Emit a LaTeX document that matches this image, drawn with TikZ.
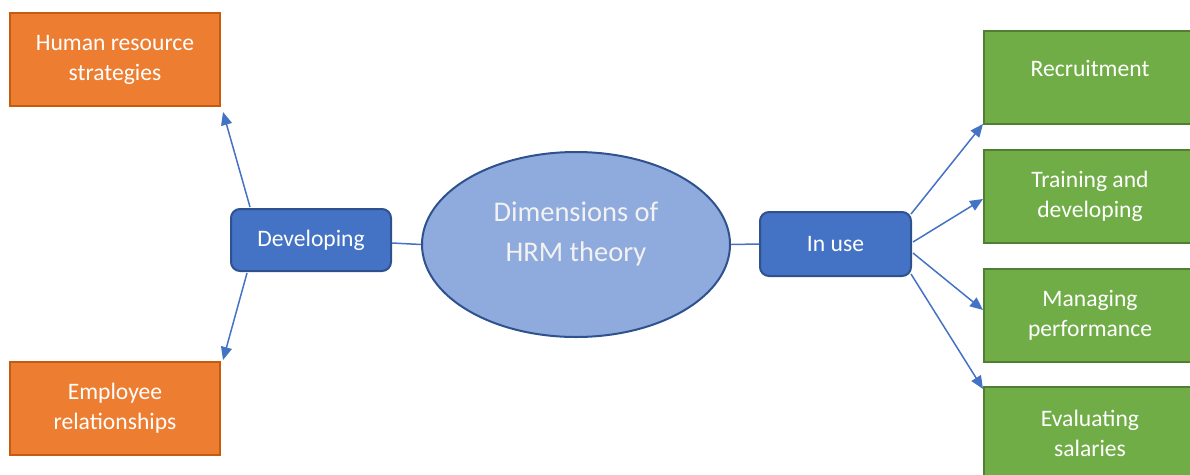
\documentclass[tikz,border=0pt]{standalone}
\usepackage{fontspec}
\setmainfont{Carlito}
\usetikzlibrary{shapes.geometric,arrows.meta}
\definecolor{orfill}{HTML}{ED7D31}
\definecolor{ordraw}{HTML}{C55A11}
\definecolor{grfill}{HTML}{70AD47}
\definecolor{grdraw}{HTML}{507E32}
\definecolor{blfill}{HTML}{4472C4}
\definecolor{bldraw}{HTML}{2F528F}
\definecolor{elfill}{HTML}{8FAADC}
\definecolor{eltext}{HTML}{F2F2F2}
\tikzset{
  basebox/.style={rectangle, inner sep=0pt, align=center, text=white,
    font=\fontsize{23.6}{30}\selectfont, line width=2pt},
  orbox/.style={basebox, fill=orfill, draw=ordraw, minimum width=210pt, minimum height=93pt},
  grbox/.style={basebox, fill=grfill, draw=grdraw, minimum width=212pt, minimum height=93pt},
  blbox/.style={basebox, fill=blfill, draw=bldraw, rounded corners=9pt},
  ell/.style={ellipse, inner sep=0pt, align=center, text=eltext, fill=elfill, draw=bldraw,
    line width=2pt, minimum width=308pt, minimum height=185pt,
    font=\fontsize{28.5}{40}\selectfont},
  conn/.style={draw=blfill, line width=1.5pt},
  arr/.style={conn, -{Triangle[length=13pt,width=11pt]}}
}
\begin{document}
\begin{tikzpicture}[x=1pt,y=-1pt]
\useasboundingbox (0,0) rectangle (1190,474);
\node[orbox] (hr) at (115,59.5) {Human resource\\strategies};
\node[orbox] (emp) at (115,408.5) {Employee\\relationships};
\node[blbox, minimum width=160pt, minimum height=62pt] (dev) at (311,240) {Developing};
\node[ell] (el) at (576,244.5) {\raisebox{11pt}[\height][\depth]{\begin{tabular}{@{}c@{}}Dimensions of\\HRM theory\end{tabular}}};
\node[blbox, minimum width=151pt, minimum height=64pt] (use) at (835.5,244) {In use};
\node[grbox] (rec) at (1090,77.5) {\raisebox{9pt}[\height][\depth]{Recruitment}};
\node[grbox] (tra) at (1090,196.5) {Training and\\developing};
\node[grbox] (man) at (1090,315) {Managing\\performance};
\node[grbox] (eva) at (1090,433.5) {Evaluating\\salaries};

\draw[arr] ([xshift=20pt,yshift=1pt]dev.north west) -- ([xshift=2pt,yshift=-5pt]hr.south east);
\draw[arr] ([xshift=17pt,yshift=-1pt]dev.south west) -- ([xshift=2pt,yshift=1pt]emp.north east);
\draw[conn] ([yshift=-3pt]dev.east) -- (el.west);
\draw[conn] (el.east) -- (use.west);
\draw[arr] ([xshift=-1pt,yshift=-3pt]use.north east) -- ([yshift=1pt]rec.south west);
\draw[arr] ([xshift=1pt,yshift=2pt]use.east) -- ([yshift=-2.5pt]tra.west);
\draw[arr] ([xshift=1pt,yshift=-9pt]use.east) -- ([yshift=5pt]man.west);
\draw[arr] ([xshift=-1pt,yshift=3pt]use.south east) -- ([yshift=-3pt]eva.north west);
\end{tikzpicture}
\end{document}
